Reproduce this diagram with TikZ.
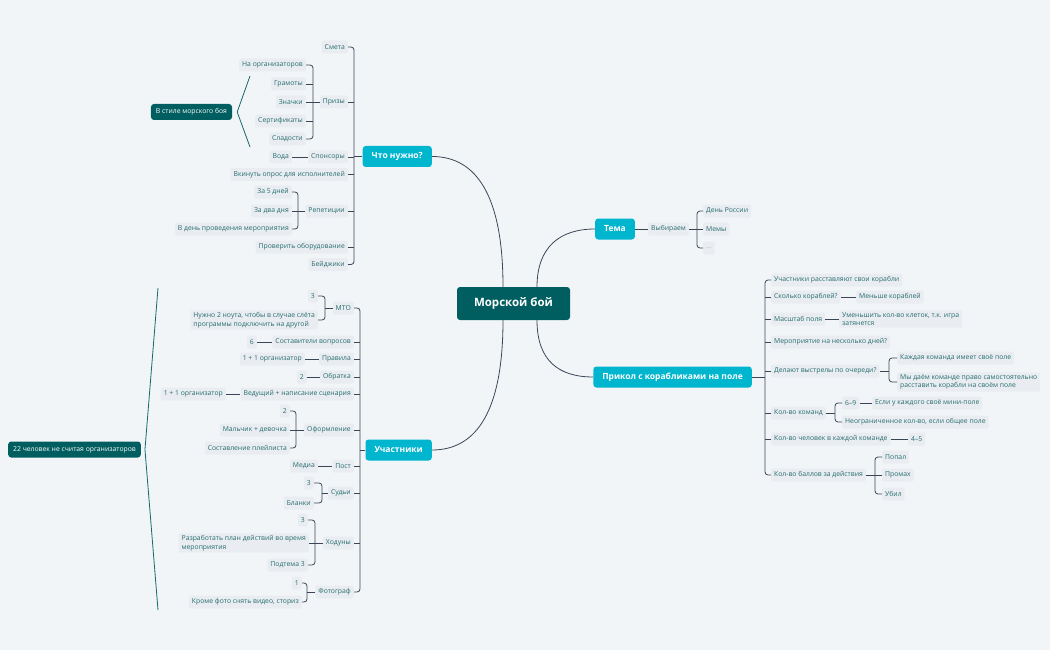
\documentclass[tikz,border=0pt]{standalone}
\usepackage{fontspec}
\setmainfont{Open Sans}
\definecolor{bg}{RGB}{242,245,248}
\definecolor{leafbg}{RGB}{233,237,241}
\definecolor{txt}{RGB}{38,108,110}
\definecolor{ln}{RGB}{58,70,88}
\definecolor{dteal}{RGB}{0,94,96}
\definecolor{cyanb}{RGB}{0,181,206}
\definecolor{sumln}{RGB}{20,105,105}
\tikzset{
 leaf/.style={fill=leafbg, rounded corners=2pt, text=txt, inner xsep=3pt, inner ysep=2pt, minimum height=13pt, font=\fontsize{6.8}{8.5}\selectfont, align=left},
 le/.style={leaf, anchor=east},
 lw/.style={leaf, anchor=west},
 branch/.style={fill=cyanb, rounded corners=3pt, text=white, font=\bfseries\fontsize{8.5}{10}\selectfont, inner xsep=9pt, minimum height=21pt},
 central/.style={fill=dteal, rounded corners=3pt, text=white, font=\bfseries\fontsize{11.5}{13}\selectfont, minimum width=113pt, minimum height=33pt},
 summ/.style={fill=dteal, rounded corners=3pt, text=white, font=\fontsize{6.8}{8.5}\selectfont, inner xsep=5pt, minimum height=16pt},
 conn/.style={draw=ln, line width=0.8pt},
 brk/.style={conn, rounded corners=3pt},
 sline/.style={draw=sumln, line width=0.8pt},
}
\begin{document}
\begin{tikzpicture}[x=1pt,y=-1pt]
\fill[bg] (0,0) rectangle (1050,650);
\useasboundingbox (0,0) rectangle (1050,650);

% central and branches
\node[central] (M) at (513.5,303.5) {Морской бой};
\node[branch, anchor=east] (Q) at (432,156.5) {Что нужно?};
\node[branch, anchor=west] (T) at (595,229) {Тема};
\node[branch, anchor=east] (P) at (752,377) {Прикол с корабликами на поле};
\node[branch, anchor=east] (U) at (432,450) {Участники};

\coordinate (mtl) at ([xshift=-10.5pt]M.north);
\coordinate (mtr) at ([xshift=23.5pt]M.north);
\coordinate (mbl) at ([xshift=-10.5pt]M.south);
\coordinate (mbr) at ([xshift=23.5pt]M.south);
\draw[conn] (mtl) .. controls +(0,-90) and +(45,0) .. (Q.east);
\draw[conn] (mtr) .. controls +(0,-40) and +(-35,0) .. (T.west);
\draw[conn] (mbl) .. controls +(0,90) and +(45,0) .. (U.east);
\draw[conn] (mbr) .. controls +(0,40) and +(-35,0) .. (P.west);

% ---------- Что нужно? ----------
\node[le] (q1) at (348,47) {Смета};
\node[le] (q2) at (348,102) {Призы};
\node[le] (q3) at (348,157) {Спонсоры};
\node[le] (q4) at (348,174.5) {Вкинуть опрос для исполнителей};
\node[le] (q5) at (348,211) {Репетиции};
\node[le] (q6) at (348,247) {Проверить оборудование};
\node[le] (q7) at (348,264.5) {Бейджики};
\coordinate (bq) at (354,0);
\draw[brk] (q1.east) -- (q1.east -| bq) -- (q7.east -| bq) -- (q7.east);
\foreach \n in {q2,q3,q4,q5,q6} \draw[conn] (\n.east) -- (\n.east -| bq);
\draw[conn] (Q.west) -- (Q.west -| bq);

\node[le] (p1) at (306,65) {На организаторов};
\node[le] (p2) at (306,84) {Грамоты};
\node[le] (p3) at (306,102) {Значки};
\node[le] (p4) at (306,121) {Сертификаты};
\node[le] (p5) at (306,139) {Сладости};
\coordinate (bp) at (313,0);
\draw[brk] (p1.east) -- (p1.east -| bp) -- (p5.east -| bp) -- (p5.east);
\foreach \n in {p2,p3,p4} \draw[conn] (\n.east) -- (\n.east -| bp);
\draw[conn] (q2.west) -- (q2.west -| bp);

\node[summ] (s1) at (191.5,112) {В стиле морского боя};
\coordinate (s1a) at (250,76);
\coordinate (s1v) at ([xshift=5pt]s1.east);
\coordinate (s1b) at (250,147);
\draw[sline] (s1a) -- (s1v) -- (s1b);

\node[le] (q3a) at (292,157) {Вода};
\draw[conn] (q3a.east) -- (q3.west);

\node[le] (r1) at (292,192) {За 5 дней};
\node[le] (r2) at (292,211) {За два дня};
\node[le] (r3) at (292,229) {В день проведения мероприятия};
\coordinate (br) at (298,0);
\draw[brk] (r1.east) -- (r1.east -| br) -- (r3.east -| br) -- (r3.east);
\draw[conn] (r2.east) -- (r2.east -| br);
\draw[conn] (q5.west) -- (q5.west -| br);

% ---------- Участники ----------
\node[le] (u1) at (354,308) {МТО};
\node[le] (u2) at (354,342) {Составители вопросов};
\node[le] (u3) at (354,359) {Правила};
\node[le] (u4) at (354,377) {Обратка};
\node[le] (u5) at (354,394) {Ведущий + написание сценария};
\node[le] (u6) at (354,430) {Оформление};
\node[le] (u7) at (354,466) {Пост};
\node[le] (u8) at (354,493) {Судьи};
\node[le] (u9) at (354,543) {Ходуны};
\node[le] (u10) at (354,592) {Фотограф};
\coordinate (bu) at (360,0);
\draw[brk] (u1.east) -- (u1.east -| bu) -- (u10.east -| bu) -- (u10.east);
\foreach \n in {u2,u3,u4,u5,u6,u7,u8,u9} \draw[conn] (\n.east) -- (\n.east -| bu);
\draw[conn] (U.west) -- (U.west -| bu);

\node[le] (m1) at (318,296) {3};
\node[le] (m2) at (318,320) {Нужно 2 ноута, чтобы в случае слёта\\программы подключить на другой};
\coordinate (bm) at (325,0);
\draw[brk] (m1.east) -- (m1.east -| bm) -- (m2.east -| bm) -- (m2.east);
\draw[conn] (u1.west) -- (u1.west -| bm);

\node[le] (u2a) at (257,342) {6};
\draw[conn] (u2a.east) -- (u2.west);
\node[le] (u3a) at (305,359) {1 + 1 организатор};
\draw[conn] (u3a.east) -- (u3.west);
\node[le] (u4a) at (307,377) {2};
\draw[conn] (u4a.east) -- (u4.west);
\node[le] (u5a) at (226,394) {1 + 1 организатор};
\draw[conn] (u5a.east) -- (u5.west);

\node[le] (o1) at (290,411) {2};
\node[le] (o2) at (290,430) {Мальчик + девочка};
\node[le] (o3) at (290,448) {Составление плейлиста};
\coordinate (bo) at (296,0);
\draw[brk] (o1.east) -- (o1.east -| bo) -- (o3.east -| bo) -- (o3.east);
\draw[conn] (o2.east) -- (o2.east -| bo);
\draw[conn] (u6.west) -- (u6.west -| bo);

\node[le] (u7a) at (318,466) {Медиа};
\draw[conn] (u7a.east) -- (u7.west);

\node[le] (j1) at (314,483) {3};
\node[le] (j2) at (314,503) {Бланки};
\coordinate (bj) at (322,0);
\draw[brk] (j1.east) -- (j1.east -| bj) -- (j2.east -| bj) -- (j2.east);
\draw[conn] (u8.west) -- (u8.west -| bj);

\node[le] (h1) at (308,520) {3};
\node[le] (h2) at (309,543) {Разработать план действий во время\\мероприятия};
\node[le] (h3) at (308,565) {Подтема 3};
\coordinate (bh) at (315,0);
\draw[brk] (h1.east) -- (h1.east -| bh) -- (h3.east -| bh) -- (h3.east);
\draw[conn] (h2.east) -- (h2.east -| bh);
\draw[conn] (u9.west) -- (u9.west -| bh);

\node[le] (f1) at (302,583) {1};
\node[le] (f2) at (302,602) {Кроме фото снять видео, сториз};
\coordinate (bf) at (307,0);
\draw[brk] (f1.east) -- (f1.east -| bf) -- (f2.east -| bf) -- (f2.east);
\draw[conn] (u10.west) -- (u10.west -| bf);

\node[summ] (s2) at (74.5,449.5) {22 человек не считая организаторов};
\coordinate (s2a) at (158,288);
\coordinate (s2v) at ([xshift=4pt]s2.east);
\coordinate (s2b) at (158,610);
\draw[sline] (s2a) -- (s2v) -- (s2b);

% ---------- Тема ----------
\node[lw] (t1) at (648,229) {Выбираем};
\draw[conn] (T.east) -- (t1.west);
\node[lw] (t2) at (703,211) {День России};
\node[lw] (t3) at (703,229) {Мемы};
\node[lw, text=gray!60] (t4) at (703,248) {...};
\coordinate (bt) at (697,0);
\draw[brk] (t2.west) -- (t2.west -| bt) -- (t4.west -| bt) -- (t4.west);
\draw[conn] (t3.west) -- (t3.west -| bt);
\draw[conn] (t1.east) -- (t1.east -| bt);

% ---------- Прикол ----------
\node[lw] (k1) at (771,280) {Участники расставляют свои корабли};
\node[lw] (k2) at (771,297) {Сколько кораблей?};
\node[lw] (k3) at (771,319) {Масштаб поля};
\node[lw] (k4) at (771,342) {Мероприятие на несколько дней?};
\node[lw] (k5) at (771,371) {Делают выстрелы по очереди?};
\node[lw] (k6) at (771,413) {Кол-во команд};
\node[lw] (k7) at (771,439) {Кол-во человек в каждой команде};
\node[lw] (k8) at (771,475) {Кол-во баллов за действия};
\coordinate (bk) at (765,0);
\draw[brk] (k1.west) -- (k1.west -| bk) -- (k8.west -| bk) -- (k8.west);
\foreach \n in {k2,k3,k4,k5,k6,k7} \draw[conn] (\n.west) -- (\n.west -| bk);
\draw[conn] (P.east) -- (P.east -| bk);

\node[lw] (k2a) at (856,297) {Меньше кораблей};
\draw[conn] (k2.east) -- (k2a.west);
\node[lw] (k3a) at (839,319) {Уменьшить кол-во клеток, т.к. игра\\затянется};
\draw[conn] (k3.east) -- (k3a.west);

\node[lw] (d1) at (897,358) {Каждая команда имеет своё поле};
\node[lw] (d2) at (897,382) {Мы даём команде право самостоятельно\\расставить корабли на своём поле};
\coordinate (bd) at (889,0);
\draw[brk] (d1.west) -- (d1.west -| bd) -- (d2.west -| bd) -- (d2.west);
\draw[conn] (k5.east) -- (k5.east -| bd);

\node[lw] (c1) at (842,403) {6–9};
\node[lw] (c2) at (842,422) {Неограниченное кол-во, если общее поле};
\coordinate (bc) at (835,0);
\draw[brk] (c1.west) -- (c1.west -| bc) -- (c2.west -| bc) -- (c2.west);
\draw[conn] (k6.east) -- (k6.east -| bc);
\node[lw] (c1a) at (872,403) {Если у каждого своё мини-поле};
\draw[conn] (c1.east) -- (c1a.west);

\node[lw] (k7a) at (908,439) {4–5};
\draw[conn] (k7.east) -- (k7a.west);

\node[lw] (b1) at (882,457) {Попал};
\node[lw] (b2) at (882,475) {Промах};
\node[lw] (b3) at (882,494) {Убил};
\coordinate (bb) at (875,0);
\draw[brk] (b1.west) -- (b1.west -| bb) -- (b3.west -| bb) -- (b3.west);
\draw[conn] (b2.west) -- (b2.west -| bb);
\draw[conn] (k8.east) -- (k8.east -| bb);
\end{tikzpicture}
\end{document}
